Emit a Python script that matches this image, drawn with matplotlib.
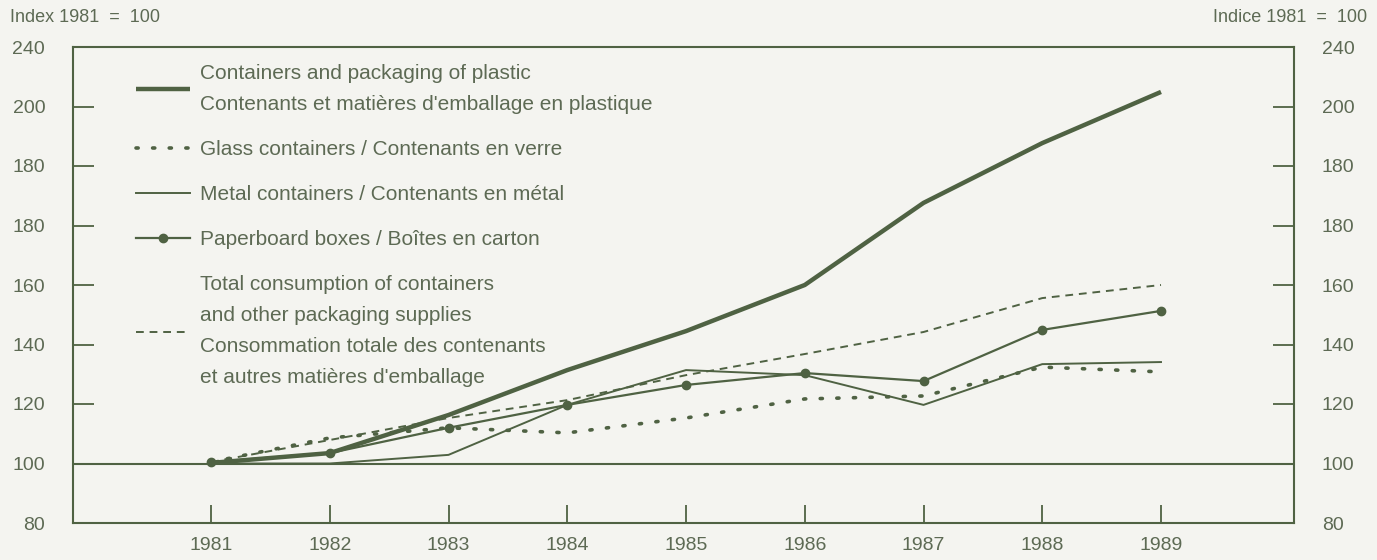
import numpy as np
import matplotlib
matplotlib.use("Agg")
import matplotlib.pyplot as plt

plt.rcParams["font.family"] = ["Liberation Sans", "DejaVu Sans"]

years = [1981, 1982, 1983, 1984, 1985, 1986, 1987, 1988, 1989]
plastic = [100.2, 103.5, 116.3, 131.4, 144.5, 160.0, 187.6, 207.7, 224.9]
glass = [100.5, 108.6, 112.0, 110.3, 115.3, 121.7, 122.7, 132.4, 130.8]
metal = [100.0, 100.0, 102.9, 119.7, 131.4, 129.7, 119.7, 133.4, 134.1]
paperboard = [100.5, 103.5, 112.0, 119.7, 126.4, 130.4, 127.7, 144.9, 151.3]
total = [100.5, 107.9, 115.3, 121.3, 129.7, 136.8, 144.2, 155.6, 160.0]

# the printed scale repeats 180 and shows 200 where 220 belongs
y_ticks = [80, 100, 120, 140, 160, 180, 200, 220, 240]
y_tick_labels = ["80", "100", "120", "140", "160", "180", "180", "200", "240"]

labels = [
    "Containers and packaging of plastic\nContenants et matières d'emballage en plastique",
    "Glass containers / Contenants en verre",
    "Metal containers / Contenants en métal",
    "Paperboard boxes / Boîtes en carton",
    "Total consumption of containers\nand other packaging supplies\n"
    "Consommation totale des contenants\net autres matières d'emballage",
]

BG = "#f4f4f0"
LINE = "#4f6243"
TEXT = "#5d6a54"

fig = plt.figure(figsize=(13.77, 5.6), dpi=100, facecolor=BG)
ax = fig.add_axes([73 / 1377, 1 - 523 / 560, (1294 - 73) / 1377, (523 - 47) / 560])
ax.set_facecolor(BG)

ax.plot(years, plastic, color=LINE, linewidth=3.2, label=labels[0], solid_capstyle="butt")
ax.plot(years, glass, color=LINE, linewidth=2.6, linestyle=(0, (0.6, 4.0)),
        dash_capstyle="round", label=labels[1])
ax.plot(years, metal, color=LINE, linewidth=1.4, label=labels[2])
ax.plot(years, paperboard, color=LINE, linewidth=1.6, marker="o", markersize=6,
        label=labels[3])
ax.plot(years, total, color=LINE, linewidth=1.4, linestyle=(0, (4, 3)), label=labels[4])

ax.axhline(100, color=LINE, linewidth=1.5)

ax.set_xlim(1981 - (211 - 73) / 118.75, 1989 + (1294 - 1161) / 118.75)
ax.set_ylim(80, 240)

ax.set_yticks(y_ticks)
ax.set_yticklabels(y_tick_labels)
ax.set_xticks(years)
ax.set_xticklabels([str(y) for y in years])

ax.tick_params(axis="y", direction="in", length=15, width=1.3, color=LINE,
               labelcolor=TEXT, labelsize=14, left=True, right=True,
               labelleft=True, labelright=True, pad=20)
ax.tick_params(axis="x", direction="in", length=13, width=1.3, color=LINE,
               labelcolor=TEXT, labelsize=14, pad=10)

for side in ax.spines.values():
    side.set_color(LINE)
    side.set_linewidth(1.5)

fig.text(10 / 1377, 1 - 18 / 560, "Index 1981  =  100", color=TEXT, fontsize=13,
         va="center", ha="left")
fig.text(1367 / 1377, 1 - 18 / 560, "Indice 1981  =  100", color=TEXT, fontsize=13,
         va="center", ha="right")

leg = ax.legend(loc="upper left", bbox_to_anchor=(0.041, 0.99), frameon=False,
                fontsize=15, handlelength=2.6, handletextpad=0.5,
                labelspacing=1.25, labelcolor=TEXT, borderaxespad=0.2)
for t in leg.get_texts():
    t.set_linespacing(1.8)

fig.savefig("out.png", dpi=100, facecolor=BG)
